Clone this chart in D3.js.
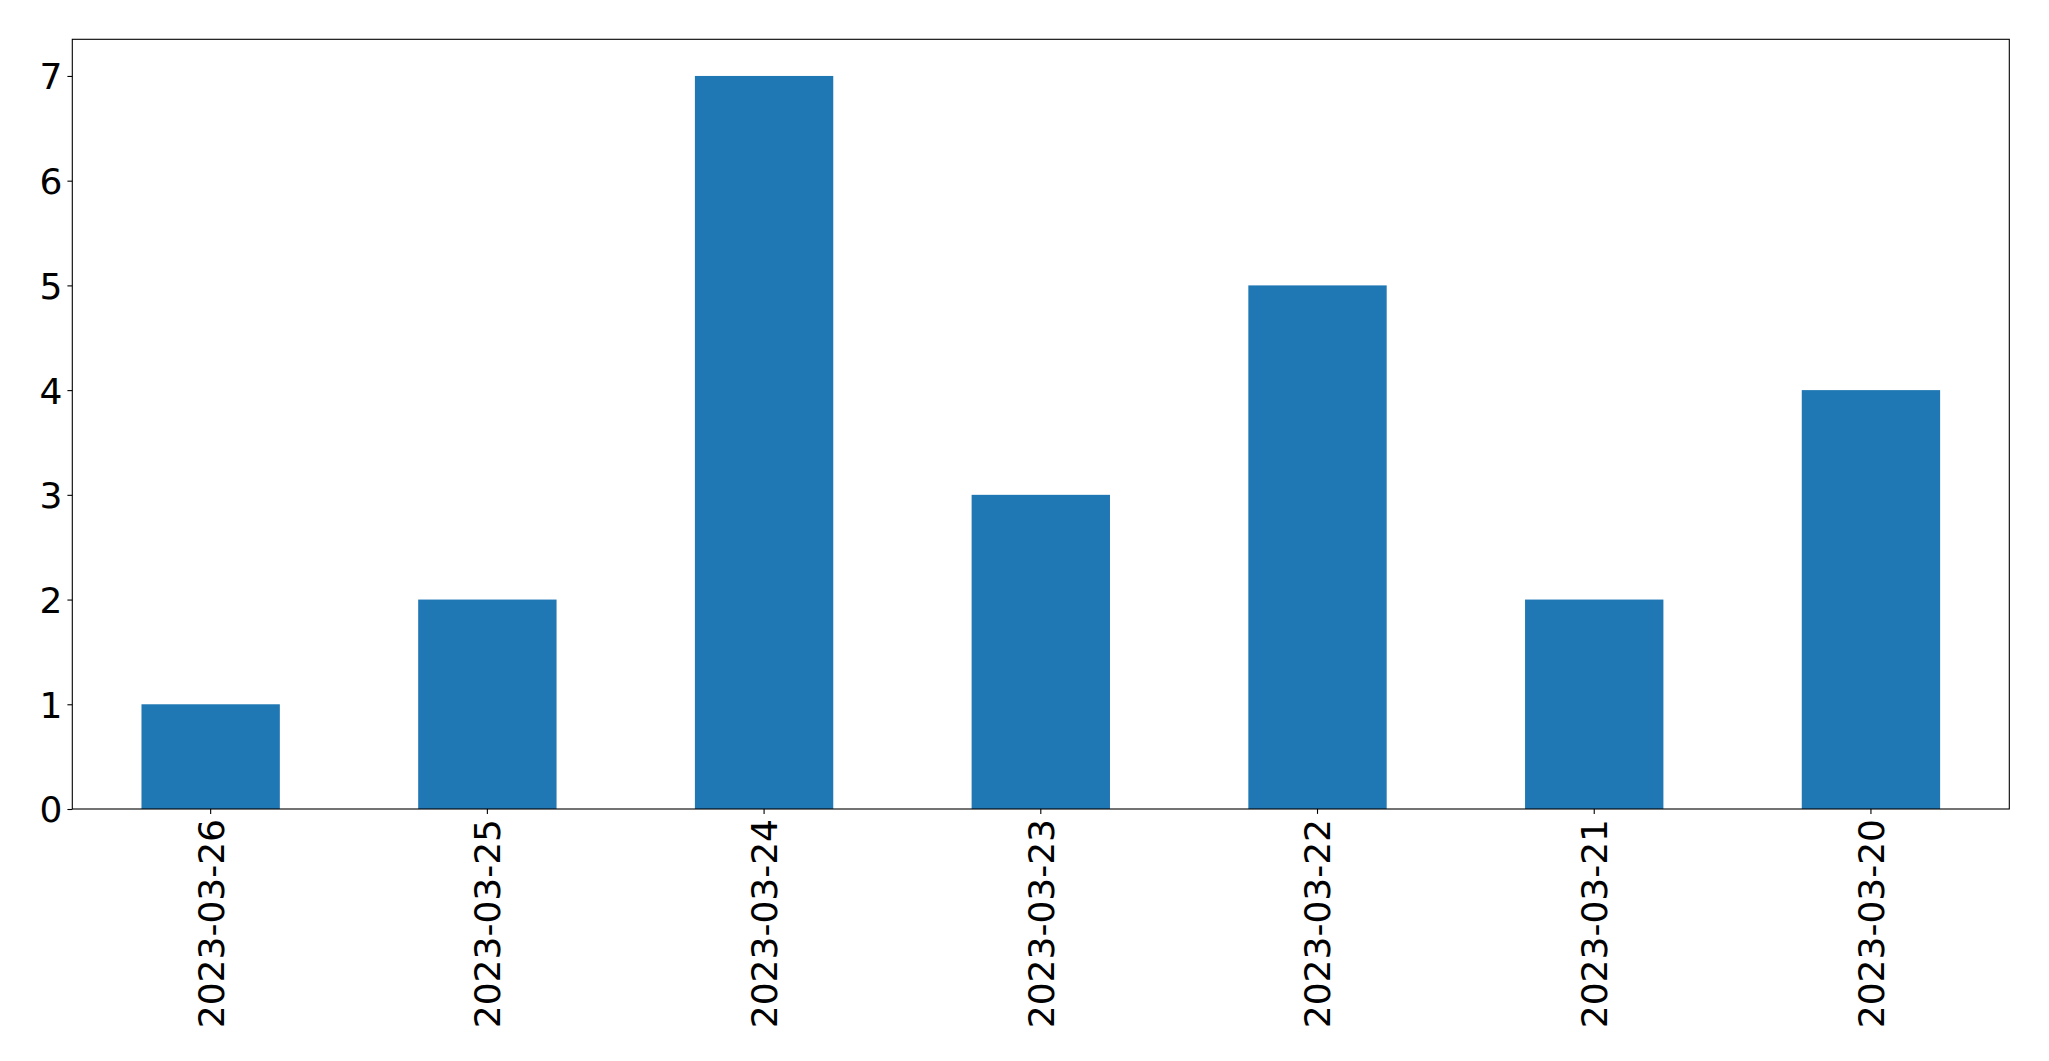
<!DOCTYPE html>
<html>
<head>
<meta charset="utf-8">
<script src="https://cdn.jsdelivr.net/npm/d3@7"></script>
<style>
  body { margin: 0; background: #fff; }
  text { font-family: "DejaVu Sans", sans-serif; fill: #000; }
</style>
</head>
<body>
<svg id="chart" width="2049" height="1061"></svg>
<script>
var dates = ['2023-03-26', '2023-03-25', '2023-03-24', '2023-03-23', '2023-03-22', '2023-03-21', '2023-03-20'];
var counts = [1, 2, 7, 3, 5, 2, 4];
var yTicks = [0, 1, 2, 3, 4, 5, 6, 7];

var margin = { top: 39.3, right: 39.7, bottom: 252, left: 72.3 };
var width = 2049, height = 1061;
var svg = d3.select('#chart');

var x = d3.scaleBand()
    .domain(dates)
    .range([margin.left, width - margin.right])
    .paddingInner(0.5)
    .paddingOuter(0.25);

var y = d3.scaleLinear()
    .domain([0, d3.max(counts) * 1.05])
    .range([height - margin.bottom, margin.top]);

// bars
svg.selectAll('.bar')
    .data(dates)
    .enter()
    .append('rect')
    .attr('class', 'bar')
    .attr('x', function (d) { return x(d); })
    .attr('width', x.bandwidth())
    .attr('y', function (d, i) { return y(counts[i]); })
    .attr('height', function (d, i) { return y(0) - y(counts[i]); })
    .style('fill', '#1f77b4');

// y axis
var yAxis = svg.append('g')
    .attr('transform', 'translate(' + margin.left + ',0)')
    .call(d3.axisLeft(y).tickValues(yTicks).tickSize(4.9).tickPadding(4.9).tickFormat(d3.format('d')));
yAxis.select('.domain').remove();
yAxis.selectAll('line').attr('stroke-width', 1.1);
yAxis.selectAll('text').style('font-size', '36px').attr('dy', '0.36em');

// x axis
var xAxis = svg.append('g')
    .attr('transform', 'translate(0,' + (height - margin.bottom) + ')')
    .call(d3.axisBottom(x).tickSize(4.9).tickPadding(0));
xAxis.select('.domain').remove();
xAxis.selectAll('line').attr('stroke-width', 1.1);
xAxis.selectAll('text')
    .style('font-size', '36px')
    .attr('text-anchor', 'end')
    .attr('dy', '0.36em')
    .attr('transform', 'translate(0,10) rotate(-90)')
    .attr('x', 0)
    .attr('y', 0);

// frame
svg.append('rect')
    .attr('x', margin.left)
    .attr('y', margin.top)
    .attr('width', width - margin.right - margin.left)
    .attr('height', height - margin.bottom - margin.top)
    .style('fill', 'none')
    .attr('stroke', '#000')
    .attr('stroke-width', 1.1);
</script>
</body>
</html>
